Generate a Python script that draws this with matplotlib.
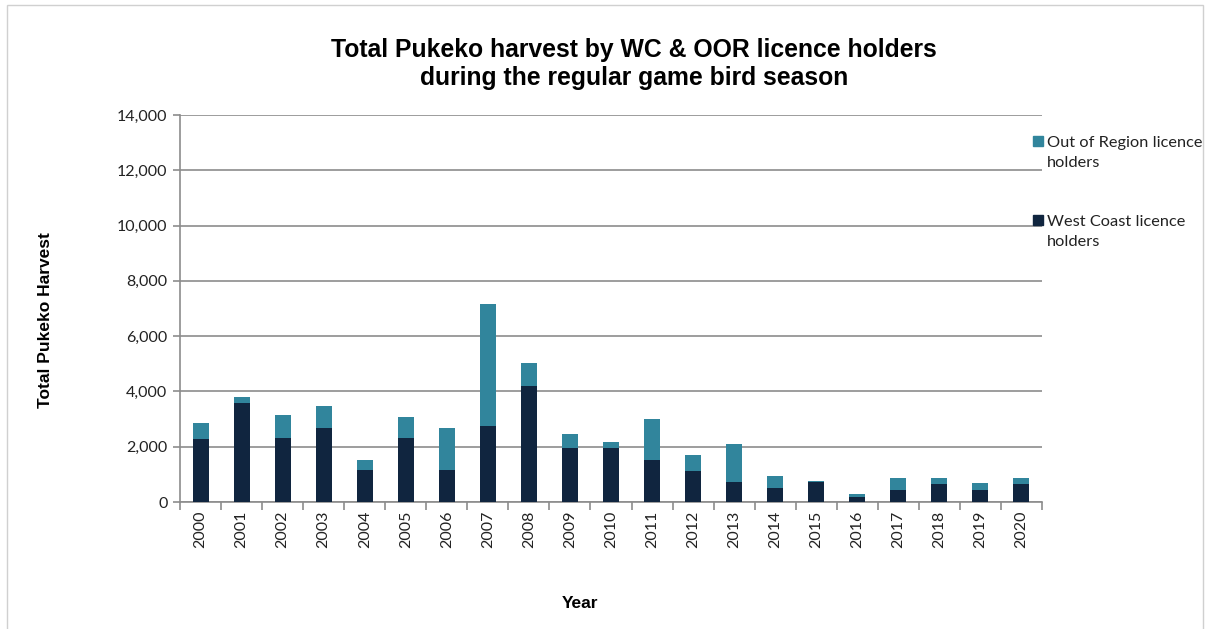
import numpy as np
import matplotlib
matplotlib.use("Agg")
import matplotlib.pyplot as plt
from matplotlib.patches import Rectangle

years = [str(y) for y in range(2000, 2021)]
# values
west_coast = [2290, 3575, 2330, 2690, 1140, 2315, 1165, 2765, 4210, 1970, 1970,
              1535, 1120, 720, 515, 740, 195, 450, 640, 450, 640]
total = [2850, 3795, 3130, 3480, 1505, 3065, 2665, 7170, 5025, 2445, 2175,
         2990, 1715, 2090, 955, 775, 295, 870, 885, 675, 885]
out_of_region = [t - w for t, w in zip(total, west_coast)]
legend_labels = ["Out of Region licence\nholders", "West Coast licence\nholders"]

wc_col = "#10253F"
oor_col = "#31859C"
grid_col = "#8c8c8c"

W, H = 1208, 629
fig = plt.figure(figsize=(W / 100, H / 100), dpi=100)
# outer chart border
fig.patches.append(Rectangle((7 / W, -0.01), 1196 / W, 1 - 5 / H + 0.01,
                             transform=fig.transFigure, fill=False,
                             edgecolor="#d0d0d0", linewidth=1))

ax = fig.add_axes([180 / W, 127 / H, 862 / W, 387 / H])
x = np.arange(len(years))
ax.bar(x, west_coast, width=0.39, color=wc_col, zorder=3)
ax.bar(x, out_of_region, width=0.39, bottom=west_coast, color=oor_col, zorder=3)

ax.set_xlim(-0.5, len(years) - 0.5)
ax.set_ylim(0, 14000)
ax.set_yticks(range(0, 14001, 2000))
ax.set_yticklabels([f"{v:,}" for v in range(0, 14001, 2000)],
                   fontsize=11.5, family="Lato", color="#222222")
ax.yaxis.grid(True, color=grid_col, linewidth=1.2, zorder=0)
ax.set_xticks(x)
ax.set_xticklabels(years, rotation=90, fontsize=11.5, family="Lato", color="#222222")
ax.set_xticks(np.arange(-0.5, len(years)), minor=True)
ax.tick_params(axis="x", which="major", length=0, pad=6)
ax.tick_params(axis="x", which="minor", length=6, color=grid_col, width=1.2)
ax.tick_params(axis="y", length=5, color=grid_col, width=1.2, pad=4)
for s in ["top", "right"]:
    ax.spines[s].set_visible(False)
for s in ["left", "bottom"]:
    ax.spines[s].set_color(grid_col)
    ax.spines[s].set_linewidth(1.2)

fig.text(634 / W, 1 - 64 / H,
         "Total Pukeko harvest by WC & OOR licence holders\nduring the regular game bird season",
         ha="center", va="center", fontsize=17.8, fontweight="bold",
         family="Liberation Sans", linespacing=1.25)
fig.text(46 / W, 1 - 320 / H, "Total Pukeko Harvest", rotation=90,
         ha="center", va="center", fontsize=12.5, fontweight="bold",
         family="Liberation Sans")
fig.text(580 / W, 1 - 603 / H, "Year", ha="center", va="center",
         fontsize=12.5, fontweight="bold", family="Liberation Sans")

# legend drawn by hand so the swatch sits on the first line
for label, col, yc in zip(legend_labels, [oor_col, wc_col], [141, 220]):
    fig.patches.append(Rectangle((1033 / W, 1 - (yc + 5) / H), 10 / W, 10 / H,
                                 transform=fig.transFigure, color=col))
    fig.text(1047 / W, 1 - (yc - 5) / H, label, ha="left", va="top",
             fontsize=11.8, family="Lato", color="#222222", linespacing=1.55)

fig.savefig("out.png", dpi=100)
